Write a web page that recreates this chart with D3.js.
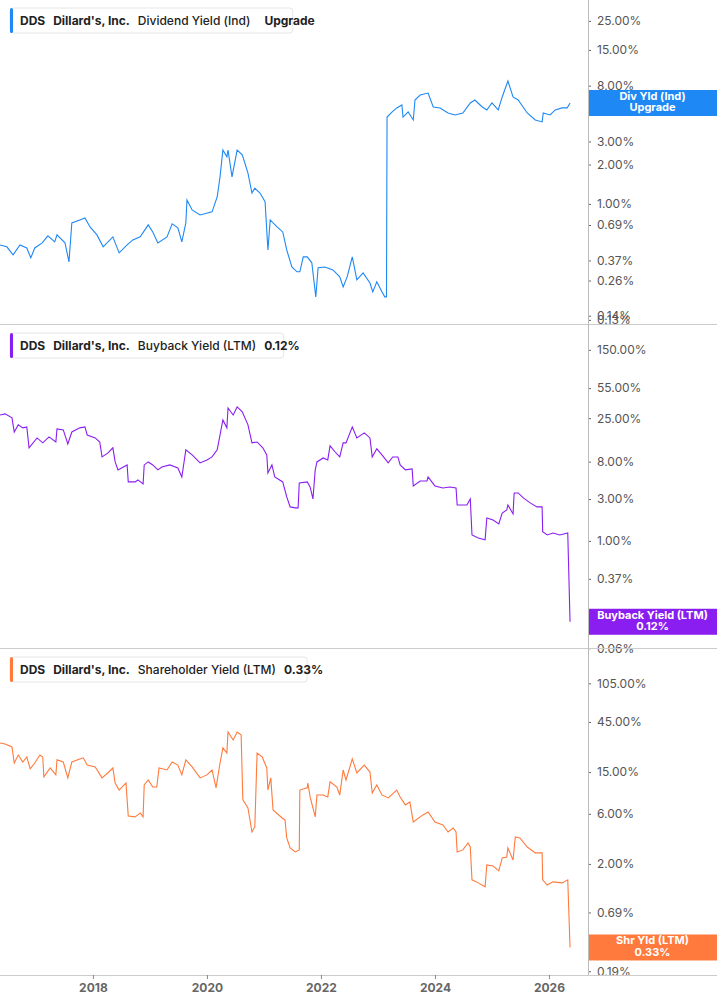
<!DOCTYPE html>
<html><head><meta charset="utf-8">
<script src="https://cdn.jsdelivr.net/npm/d3@7/dist/d3.min.js"></script>
<style>body{margin:0;background:#fff;font-family:Inter,"Noto Sans",sans-serif}</style>
</head><body><svg id="c" width="717" height="1005"></svg>
<script>
const divDates=[2016.37,2016.49,2016.60,2016.72,2016.84,2016.91,2016.98,2017.11,2017.21,2017.33,2017.37,2017.51,2017.58,2017.63,2017.77,2017.86,2017.95,2018.07,2018.18,2018.35,2018.46,2018.60,2018.70,2018.83,2018.97,2019.05,2019.14,2019.30,2019.39,2019.49,2019.56,2019.63,2019.65,2019.74,2019.88,2020.09,2020.18,2020.23,2020.28,2020.35,2020.37,2020.44,2020.53,2020.62,2020.72,2020.79,2020.84,2020.93,2021.02,2021.07,2021.11,2021.23,2021.33,2021.40,2021.49,2021.58,2021.63,2021.69,2021.76,2021.84,2021.91,2021.95,2022.07,2022.21,2022.33,2022.39,2022.46,2022.55,2022.63,2022.74,2022.86,2022.91,2022.98,2023.07,2023.12,2023.15,2023.16,2023.25,2023.33,2023.42,2023.44,2023.53,2023.62,2023.65,2023.74,2023.88,2023.97,2024.09,2024.23,2024.35,2024.49,2024.62,2024.70,2024.83,2024.91,2025.00,2025.11,2025.18,2025.28,2025.37,2025.46,2025.62,2025.76,2025.88,2025.90,2026.02,2026.11,2026.23,2026.32,2026.37];
const divValues=[0.486,0.47,0.408,0.486,0.461,0.387,0.461,0.504,0.57,0.513,0.58,0.504,0.361,0.716,0.755,0.782,0.667,0.58,0.47,0.56,0.423,0.486,0.531,0.56,0.692,0.611,0.504,0.56,0.704,0.656,0.513,0.716,1.07,0.9,0.824,0.869,1.13,1.61,2.58,2.29,2.58,1.61,2.58,2.37,1.72,1.21,1.32,1.21,1.04,0.445,0.755,0.667,0.611,0.445,0.33,0.303,0.303,0.394,0.394,0.355,0.195,0.325,0.33,0.313,0.277,0.232,0.277,0.394,0.263,0.297,0.249,0.213,0.254,0.213,0.195,0.195,4.61,5.04,5.41,5.7,4.61,5.04,4.38,6.22,6.79,7.03,5.5,5.41,4.95,4.78,4.95,5.9,6.22,5.5,5.22,5.9,5.22,6.56,8.69,6.56,6.22,4.95,4.38,4.23,4.95,4.78,5.22,5.41,5.41,5.9];
const buyDates=[2016.37,2016.46,2016.58,2016.62,2016.69,2016.77,2016.84,2016.88,2017.02,2017.12,2017.23,2017.35,2017.37,2017.48,2017.56,2017.63,2017.77,2017.86,2017.90,2018.04,2018.12,2018.16,2018.26,2018.35,2018.39,2018.44,2018.60,2018.62,2018.74,2018.79,2018.88,2018.90,2018.97,2019.05,2019.14,2019.21,2019.35,2019.49,2019.56,2019.63,2019.74,2019.88,2020.00,2020.09,2020.18,2020.23,2020.28,2020.35,2020.37,2020.46,2020.53,2020.62,2020.72,2020.79,2020.88,2020.98,2021.05,2021.07,2021.14,2021.19,2021.33,2021.40,2021.46,2021.55,2021.60,2021.62,2021.76,2021.81,2021.86,2021.90,2021.93,2022.04,2022.12,2022.16,2022.25,2022.33,2022.39,2022.44,2022.55,2022.63,2022.76,2022.86,2022.90,2022.98,2023.07,2023.18,2023.26,2023.35,2023.39,2023.48,2023.60,2023.62,2023.74,2023.86,2023.88,2024.00,2024.14,2024.26,2024.37,2024.39,2024.49,2024.56,2024.62,2024.65,2024.76,2024.88,2024.91,2025.02,2025.12,2025.18,2025.26,2025.28,2025.37,2025.39,2025.46,2025.55,2025.67,2025.79,2025.88,2025.89,2025.97,2026.07,2026.19,2026.33,2026.37];
const buyValues=[27.2,28,25.2,17.4,21,19.4,19.9,11.5,14.9,13.1,15.3,13.4,18.9,18.4,12.7,17.4,19.4,19.9,16.1,14.9,13.4,9.05,10.0,11.5,7.94,6.44,7.34,4.70,4.70,4.95,4.46,7.34,7.94,7.34,6.44,6.96,7.34,6.78,5.35,10.9,9.54,7.73,8.37,9.05,10.9,16.1,23.9,19.4,32.7,27.2,33.6,29.5,21,13.1,13.4,11.5,9.54,5.95,7.34,5.35,4.70,3.17,2.44,2.38,2.38,4.58,4.70,4.12,3.01,6.44,7.94,8.81,8.37,12.1,10.3,9.05,13.1,13.1,19.9,14.9,17.0,14.9,9.05,11.2,9.54,7.73,9.05,9.05,7.34,6.44,6.6,4.23,4.82,4.82,5.35,4.23,4.01,4.12,4.01,2.57,2.57,2.57,3.01,1.17,1.08,1.03,1.83,1.73,1.56,2.08,2.25,2.57,2.03,3.52,3.52,3.09,2.71,2.44,2.44,1.27,1.17,1.23,1.17,1.23,0.12];
const shrDates=[2016.37,2016.46,2016.58,2016.62,2016.69,2016.77,2016.84,2016.90,2016.98,2017.07,2017.12,2017.14,2017.25,2017.35,2017.37,2017.48,2017.56,2017.63,2017.77,2017.83,2017.90,2018.04,2018.16,2018.26,2018.35,2018.39,2018.46,2018.58,2018.62,2018.74,2018.83,2018.88,2018.90,2018.97,2019.05,2019.12,2019.16,2019.30,2019.39,2019.49,2019.56,2019.63,2019.74,2019.88,2020.00,2020.09,2020.16,2020.23,2020.28,2020.35,2020.37,2020.46,2020.53,2020.60,2020.63,2020.72,2020.79,2020.84,2020.88,2020.97,2021.05,2021.07,2021.12,2021.16,2021.32,2021.37,2021.40,2021.46,2021.55,2021.62,2021.63,2021.76,2021.77,2021.81,2021.90,2021.93,2022.04,2022.12,2022.16,2022.28,2022.33,2022.39,2022.44,2022.55,2022.63,2022.76,2022.86,2022.90,2022.98,2023.07,2023.18,2023.33,2023.39,2023.48,2023.56,2023.62,2023.79,2023.88,2024.00,2024.14,2024.23,2024.32,2024.37,2024.39,2024.49,2024.58,2024.62,2024.65,2024.76,2024.88,2024.91,2025.02,2025.12,2025.18,2025.26,2025.28,2025.37,2025.41,2025.49,2025.62,2025.76,2025.88,2025.89,2025.97,2026.07,2026.23,2026.33,2026.37];
const shrValues=[28.4,27.8,26.0,18.3,21.8,18.7,20.9,16.1,18.3,21.8,20.9,13.5,16.4,14.1,19.6,18.7,13.2,18.7,20,20.5,17.5,16.8,13.2,14.7,16.4,11.8,10.1,11.8,5.73,5.61,6.12,5.61,11.3,12.6,10.8,10.8,16.4,15.7,18.7,17.5,14.1,19.6,16.8,13.2,14.1,15.7,10.6,18.3,25.5,22.8,36.1,30.3,36.1,33.9,8.15,6.82,4.03,4.50,22.8,20.9,16.4,10.1,13.2,6.53,5.48,5.25,3.54,2.84,2.60,2.72,10.1,10.6,11.8,8.69,5.61,9.08,9.08,8.69,12.1,10.8,9.08,15.7,12.6,20,14.7,17.5,15.0,9.49,11.3,9.08,8.51,10.1,8.69,7.30,7.78,5.02,5.86,6.26,5.02,4.70,4.03,4.40,4.03,2.60,2.72,3.17,2.90,1.41,1.32,1.21,1.96,1.91,1.72,2.28,2.33,2.84,2.18,3.61,3.54,2.90,2.55,2.55,1.41,1.26,1.35,1.32,1.41,0.32];
const xTickYears=[2018,2020,2022,2024,2026];
const divTicks=[25,15,8,6,3,2,1,0.69,0.37,0.26,0.14,0.13];
const buyTicks=[150,55,25,8,3,1,0.37,0.06];
const shrTicks=[105,45,15,6,2,0.69,0.19];

const svg=d3.select('#c');
const W=717, axisX=588;
const x=d3.scaleLinear().domain([2016.37,2026.65]).range([0,586]);
const panels=[
 {top:0,bot:324,dom:[0.121,36.1],dates:divDates,vals:divValues,ticks:divTicks,color:'#1e88f5',title:'Dividend Yield (Ind)',tag:'Upgrade',lab:['Div Yld (Ind)','Upgrade']},
 {top:325,bot:648,dom:[0.0603,288],dates:buyDates,vals:buyValues,ticks:buyTicks,color:'#8a1ef0',title:'Buyback Yield (LTM)',tag:'0.12%',lab:['Buyback Yield (LTM)','0.12%']},
 {top:649,bot:975,dom:[0.175,223],dates:shrDates,vals:shrValues,ticks:shrTicks,color:'#ff7a3c',title:'Shareholder Yield (LTM)',tag:'0.33%',lab:['Shr Yld (LTM)','0.33%']}
];
panels.forEach((p,i)=>{
  const y=d3.scaleLog().domain(p.dom).range([p.bot,p.top]);
  const data=p.dates.map((d,j)=>[d,p.vals[j]]);
  svg.append('path').datum(data).attr('fill','none').attr('stroke',p.color).attr('stroke-width',1.1)
    .attr('d',d3.line().x(d=>x(d[0])).y(d=>y(d[1])));
  const ax=svg.append('g').attr('transform',`translate(${axisX},0)`)
    .call(d3.axisRight(y).tickValues(p.ticks).tickSize(3).tickPadding(6).tickFormat(d=>d.toFixed(2)+'%'));
  ax.select('.domain').remove();
  ax.selectAll('line').attr('stroke','#666');
  ax.selectAll('text').attr('fill','#555').style('font-size','12px').style('font-family','Inter,sans-serif');
  if(i<2) svg.append('line').attr('x1',0).attr('x2',W).attr('y1',p.bot+0.5).attr('y2',p.bot+0.5).attr('stroke','#ccc');
  const g=svg.append('g').attr('transform',`translate(10,${p.top+8})`);
  const t=g.append('text').attr('x',10).attr('y',16.5).style('font-size','12px').attr('fill','#222');
  t.append('tspan').text('DDS').attr('font-weight','700');
  t.append('tspan').text("Dillard's, Inc.").attr('font-weight','700').attr('dx',8);
  t.append('tspan').text(p.title).attr('dx',8).attr('font-weight','500');
  t.append('tspan').text(p.tag).attr('font-weight','700').attr('dx',p.tag==='Upgrade'?14:8);
  const bw=t.node().getComputedTextLength()+18;
  g.insert('rect','text').attr('width',bw).attr('height',25).attr('rx',3).attr('fill','#fff').attr('stroke','#e6e6e6');
  g.insert('rect','text').attr('width',3).attr('height',25).attr('rx',1.5).attr('fill',p.color);
  const ly=y(p.vals[p.vals.length-1]);
  const lb=svg.append('g').attr('transform',`translate(${axisX},${ly-13})`);
  lb.append('rect').attr('width',W-axisX).attr('height',26).attr('fill',p.color);
  p.lab.forEach((s,k)=>lb.append('text').attr('x',(W-axisX)/2).attr('y',10+k*11.5).attr('text-anchor','middle')
    .attr('fill','#fff').attr('font-weight','700').style('font-size','11px').text(s));
});
svg.append('line').attr('x1',axisX+0.5).attr('x2',axisX+0.5).attr('y1',0).attr('y2',975).attr('stroke','#bbb');
svg.append('line').attr('x1',0).attr('x2',W).attr('y1',975.5).attr('y2',975.5).attr('stroke','#ccc');
const xa=svg.append('g').attr('transform','translate(0,975)')
  .call(d3.axisBottom(x).tickValues(xTickYears).tickSize(4).tickPadding(4).tickFormat(d3.format('d')));
xa.select('.domain').remove();
xa.selectAll('line').attr('stroke','#888');
xa.selectAll('text').attr('fill','#666').attr('font-weight','700').style('font-size','12px').style('font-family','Inter,sans-serif');
</script>
</body></html>
